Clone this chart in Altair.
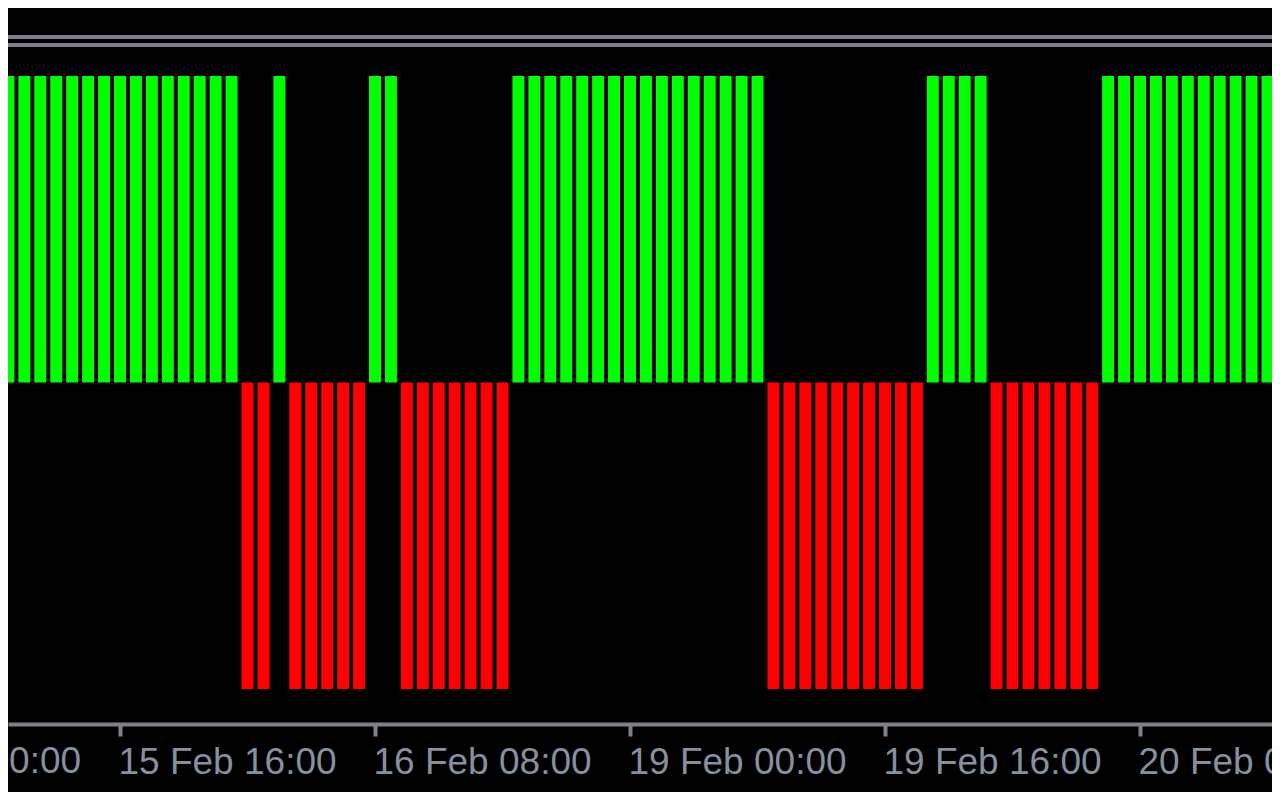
import altair as alt
import pandas as pd

# Signal per hourly bar (+1 = up / green, -1 = down / red), bar index 0 = 15 Feb 09:00
signal = [
    1, 1, 1, 1, 1, 1, 1, 1, 1, 1, 1, 1, 1, 1, 1,       # 0-14
    -1, -1,                                            # 15-16
    1,                                                 # 17
    -1, -1, -1, -1, -1,                                # 18-22
    1, 1,                                              # 23-24
    -1, -1, -1, -1, -1, -1, -1,                        # 25-31
    1, 1, 1, 1, 1, 1, 1, 1, 1, 1, 1, 1, 1, 1, 1, 1,    # 32-47
    -1, -1, -1, -1, -1, -1, -1, -1, -1, -1,            # 48-57
    1, 1, 1, 1,                                        # 58-61
    -1, -1, -1, -1, -1, -1, -1,                        # 62-68
    1, 1, 1, 1, 1, 1, 1, 1, 1, 1, 1, 1,                # 69-80
]
bar_index = list(range(len(signal)))

# Time axis labels and the bar index they sit on
tick_index = [-9, 7, 23, 39, 55, 71]
tick_labels = ["15 Feb 00:00", "15 Feb 16:00", "16 Feb 08:00",
               "19 Feb 00:00", "19 Feb 16:00", "20 Feb 08:00"]

df = pd.DataFrame({
    "i": bar_index,
    "value": signal,
    "dir": ["up" if v > 0 else "down" for v in signal],
})

W = 1264
H = 716
px_per_bar = 15.9375
x0 = -0.44 / px_per_bar
x1 = x0 + W / px_per_bar

in_range = [(k, lab) for k, lab in zip(tick_index, tick_labels) if x0 <= k <= x1]
out_range = [(k, lab) for k, lab in zip(tick_index, tick_labels) if not (x0 <= k <= x1)]

label_expr = ""
for k, lab in in_range:
    label_expr += f"datum.value == {k} ? '{lab}' : "
label_expr += "''"

LABEL_FONT = "Liberation Sans"
LABEL_SIZE = 37
LABEL_COLOR = "#8590a0"
AXIS_COLOR = "#80808c"

xscale = alt.Scale(domain=[x0, x1], nice=False, zero=False)
yscale = alt.Scale(domain=[-1.1142, 1.2219], nice=False, zero=False)

bars = alt.Chart(df).transform_calculate(
    xlo="datum.i - 0.3765",
    xhi="datum.i + 0.3765",
).mark_rect(clip=True).encode(
    x=alt.X("xlo:Q", scale=xscale, title=None,
            axis=alt.Axis(values=[k for k, _ in in_range], labelExpr=label_expr,
                          grid=False, labelAlign="left", labelBaseline="top",
                          labelFlush=False, labelOverlap=False, labelBound=False,
                          labelLimit=0,
                          labelOffset=-2, labelPadding=8,
                          labelFont=LABEL_FONT, labelFontSize=LABEL_SIZE,
                          labelColor=LABEL_COLOR,
                          domainColor=AXIS_COLOR, domainWidth=4,
                          tickColor=AXIS_COLOR, tickWidth=4, tickSize=12)),
    x2="xhi:Q",
    y=alt.Y("value:Q", scale=yscale, axis=None),
    y2=alt.datum(0),
    color=alt.Color("dir:N",
                    scale=alt.Scale(domain=["up", "down"], range=["#00ff00", "#ff0000"]),
                    legend=None),
)

# time label whose tick lies just left of the visible window (only its tail shows)
edge_df = pd.DataFrame({"t": [k for k, _ in out_range], "lab": [l for _, l in out_range]})
edge_labels = alt.Chart(edge_df).mark_text(
    align="left", baseline="top", font=LABEL_FONT, fontSize=LABEL_SIZE,
    color=LABEL_COLOR, dx=-2,
).encode(
    x=alt.X("t:Q", scale=xscale, title=None),
    y=alt.value(H + 12 + 8),
    text="lab:N",
)

line_data = alt.Data(values=[{"k": 1}])
top1 = alt.Chart(line_data).mark_rule(color="#7f7f8c", strokeWidth=4).encode(
    x=alt.value(0), x2=alt.value(W), y=alt.value(29))
top2 = alt.Chart(line_data).mark_rule(color="#7f7f8c", strokeWidth=4).encode(
    x=alt.value(0), x2=alt.value(W), y=alt.value(37))

chart = alt.layer(bars, edge_labels, top1, top2).properties(
    width=W, height=H,
    autosize=alt.AutoSizeParams(type="none"),
    padding={"left": 0, "top": 0, "right": 0, "bottom": 68},
    background="#000000",
).configure_view(stroke=None, fill="#000000")

chart.save("out.html", embed_options={"renderer": "svg", "actions": False})
